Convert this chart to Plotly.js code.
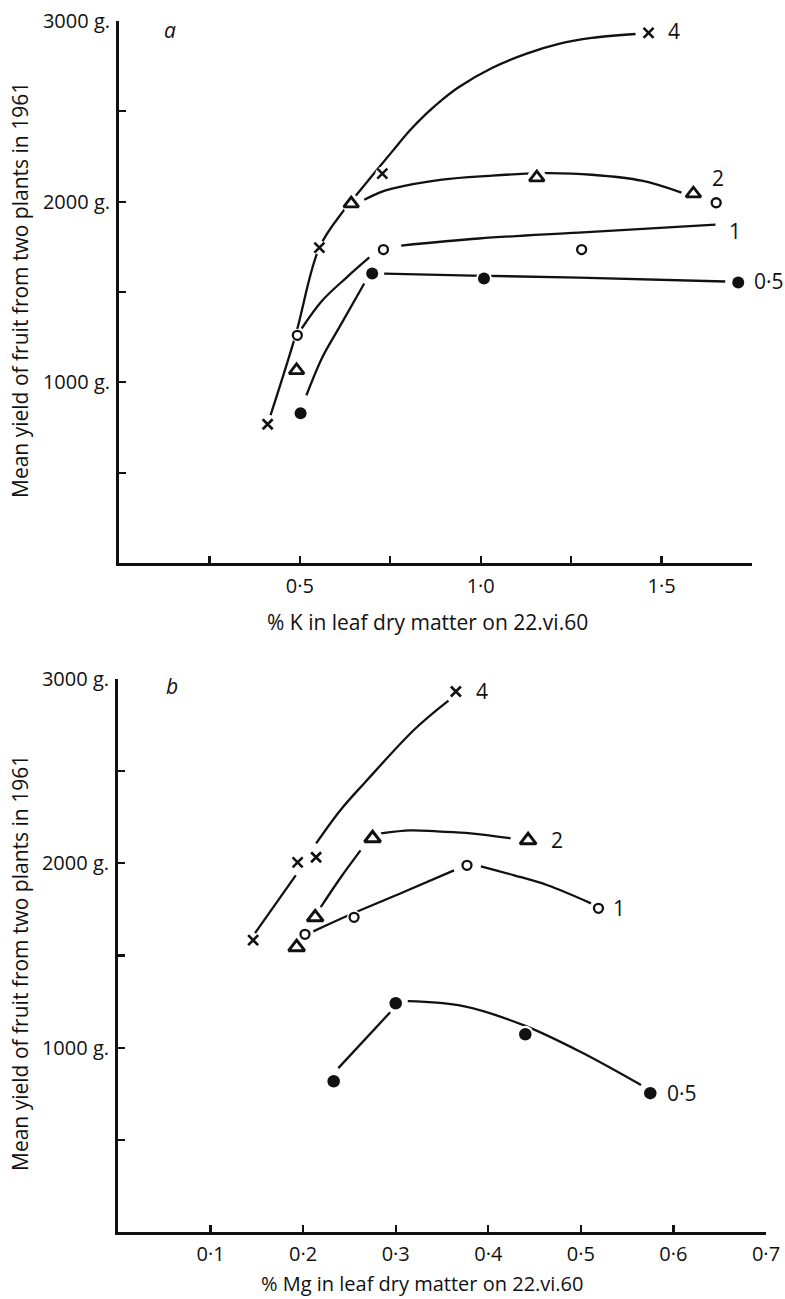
<!DOCTYPE html>
<html>
<head>
<meta charset="utf-8">
<script src="https://cdn.plot.ly/plotly-3.0.1.min.js"></script>
<style>html,body{margin:0;padding:0;background:#fff;}#chart{width:785px;height:1299px;}</style>
</head>
<body>
<div id="chart"></div>
<script>
// ---------- Panel a: % K in leaf dry matter ----------
const k4_x = [0.411, 0.554, 0.728, 1.464];
const k4_y = [768, 1746, 2155, 2934];
const k2_x = [0.491, 0.642, 1.155, 1.588];
const k2_y = [1066, 1989, 2133, 2044];
const k1_x = [0.493, 0.731, 1.279, 1.651];
const k1_y = [1260, 1735, 1735, 1994];
const k05_x = [0.502, 0.700, 1.009, 1.712];
const k05_y = [829, 1602, 1575, 1553];

// hand-drawn curves in panel a
const k4c_x = [0.419, 0.488, 0.554, 0.623, 0.659, 0.755, 0.802, 0.849, 0.893, 0.940, 1.031, 1.125, 1.216, 1.307, 1.428];
const k4c_y = [818, 1260, 1746, 1956, 2044, 2277, 2390, 2486, 2564, 2635, 2740, 2818, 2873, 2906, 2928];
const k2c_x = [0.678, 0.720, 0.755, 0.893, 1.031, 1.125, 1.188, 1.307, 1.445, 1.555];
const k2c_y = [2011, 2050, 2072, 2122, 2144, 2155, 2158, 2149, 2116, 2050];
const k1c_x = [0.505, 0.562, 0.629, 0.692, null, 0.780, 0.995, 1.271, 1.649];
const k1c_y = [1298, 1453, 1580, 1691, null, 1757, 1796, 1829, 1873];
const k05c_x = [0.518, 0.562, 0.609, 0.678, null, 0.733, 0.976, 1.271, 1.676];
const k05c_y = [928, 1138, 1304, 1547, null, 1602, 1591, 1580, 1558];

// ---------- Panel b: % Mg in leaf dry matter ----------
const m4_x = [0.146, 0.194, 0.214, 0.365];
const m4_y = [1583, 2005, 2033, 2932];
const m2_x = [0.193, 0.213, 0.275, 0.443];
const m2_y = [1545, 1707, 2136, 2125];
const m1_x = [0.202, 0.255, 0.377, 0.519];
const m1_y = [1615, 1707, 1989, 1756];
const m05_x = [0.233, 0.300, 0.440, 0.575];
const m05_y = [818, 1241, 1073, 753];

const m4c_x = [0.148, 0.192, null, 0.214, 0.240, 0.267, 0.321, 0.357];
const m4c_y = [1621, 1935, null, 2108, 2287, 2440, 2730, 2883];
const m2c_x = [0.219, 0.240, 0.262, null, 0.284, 0.316, 0.345, 0.381, 0.424];
const m2c_y = [1762, 1919, 2070, null, 2163, 2179, 2173, 2163, 2136];
const m1c_x = [0.211, 0.254, 0.308, 0.363, null, 0.392, 0.428, 0.464, 0.511];
const m1c_y = [1631, 1729, 1843, 1962, null, 1984, 1935, 1881, 1783];
const m05c_x = [0.238, 0.294, null, 0.313, 0.373, 0.438, 0.500, 0.565];
const m05c_y = [889, 1192, null, 1252, 1225, 1122, 976, 797];

// ticks
const yTickVals = [500, 1000, 1500, 2000, 2500, 3000];
const yTickText = ['', '1000 g.', '', '2000 g.', '', '3000 g.'];
const kTickVals = [0.25, 0.5, 0.75, 1.0, 1.25, 1.5, 1.75];
const kTickText = ['', '0·5', '', '1·0', '', '1·5', ''];
const mTickVals = [0.1, 0.2, 0.3, 0.4, 0.5, 0.6, 0.7];
const mTickText = ['0·1', '0·2', '0·3', '0·4', '0·5', '0·6', '0·7'];

const seriesLabels = ['4', '2', '1', '0·5'];
const yTitle = 'Mean yield of fruit from two plants in 1961';
const kTitle = '% K in leaf dry matter on 22.vi.60';
const mTitle = '% Mg in leaf dry matter on 22.vi.60';

const W = 785, H = 1299;
const FONT = '"Open Sans", Lato, sans-serif';
const FS = 21;
const px = v => v / W;
const py = v => 1 - v / H;

function curve(x, y, xa, ya) {
  return {x: x, y: y, xaxis: xa, yaxis: ya, mode: 'lines', type: 'scatter',
    line: {color: '#111', width: 2.3, shape: 'spline', smoothing: 1}, connectgaps: false, hoverinfo: 'skip'};
}
function halo(x, y, xa, ya, s) {
  return {x: x, y: y, xaxis: xa, yaxis: ya, mode: 'markers', type: 'scatter',
    marker: {symbol: 'circle', color: '#fff', size: s, line: {width: 0}}, hoverinfo: 'skip'};
}
function pts(x, y, xa, ya, sym, s, lw) {
  return {x: x, y: y, xaxis: xa, yaxis: ya, mode: 'markers', type: 'scatter',
    marker: {symbol: sym, color: '#111', size: s, line: {color: '#111', width: lw}}};
}

const data = [
  curve(k4c_x, k4c_y, 'x', 'y'), curve(k2c_x, k2c_y, 'x', 'y'),
  curve(k1c_x, k1c_y, 'x', 'y'), curve(k05c_x, k05c_y, 'x', 'y'),
  curve(m4c_x, m4c_y, 'x2', 'y2'), curve(m2c_x, m2c_y, 'x2', 'y2'),
  curve(m1c_x, m1c_y, 'x2', 'y2'), curve(m05c_x, m05c_y, 'x2', 'y2'),
  halo(k4_x, k4_y, 'x', 'y', 14), halo(k2_x, k2_y, 'x', 'y', 19),
  halo(k1_x, k1_y, 'x', 'y', 13), halo(k05_x, k05_y, 'x', 'y', 16),
  halo(m4_x, m4_y, 'x2', 'y2', 14), halo(m2_x, m2_y, 'x2', 'y2', 20),
  halo(m1_x, m1_y, 'x2', 'y2', 14), halo(m05_x, m05_y, 'x2', 'y2', 17),
  pts(k4_x, k4_y, 'x', 'y', 'x-thin-open', 10, 2.6),
  pts(k2_x, k2_y, 'x', 'y', 'triangle-up-open', 13, 2.8),
  pts(k1_x, k1_y, 'x', 'y', 'circle-open', 9, 2.3),
  pts(k05_x, k05_y, 'x', 'y', 'circle', 12, 0),
  pts(m4_x, m4_y, 'x2', 'y2', 'x-thin-open', 10, 2.6),
  pts(m2_x, m2_y, 'x2', 'y2', 'triangle-up-open', 14, 3),
  pts(m1_x, m1_y, 'x2', 'y2', 'circle-open', 9, 2.3),
  pts(m05_x, m05_y, 'x2', 'y2', 'circle', 12.5, 0)
];

const axisCommon = {
  showline: true, linecolor: '#111', linewidth: 3, showgrid: false, zeroline: false,
  ticks: 'inside', ticklen: 7, tickwidth: 2.2, tickcolor: '#111', tickmode: 'array',
  tickfont: {family: FONT, size: FS - 1, color: '#111'}, fixedrange: true
};

function ann(text, x, y, opts) {
  return Object.assign({text: text, x: px(x), y: py(y), xref: 'paper', yref: 'paper',
    showarrow: false, font: {family: FONT, size: FS, color: '#111'}, xanchor: 'center', yanchor: 'middle'}, opts || {});
}

const annotations = [
  ann('<i>a</i>', 170, 30),
  ann('<i>b</i>', 172, 686),
  ann(seriesLabels[0], 674, 31), ann(seriesLabels[1], 718, 178),
  ann(seriesLabels[2], 735, 231), ann(seriesLabels[3], 752, 281, {xanchor: 'left'}),
  ann(seriesLabels[0], 482, 691), ann(seriesLabels[1], 557, 840),
  ann(seriesLabels[2], 619, 908), ann(seriesLabels[3], 665, 1093, {xanchor: 'left'}),
  ann(yTitle, 20, 290, {textangle: -90}),
  ann(yTitle, 20, 963, {textangle: -90}),
  ann(kTitle, 427, 622),
  ann(mTitle, 422, 1283, {font: {family: FONT, size: FS - 1, color: '#111'}})
];

const layout = {
  width: W, height: H, margin: {l: 0, r: 0, t: 0, b: 0},
  paper_bgcolor: '#fff', plot_bgcolor: '#fff', showlegend: false,
  font: {family: FONT, color: '#111'},
  xaxis: Object.assign({}, axisCommon, {domain: [px(119), px(752)], range: [0, 1.75], anchor: 'y',
    tickvals: kTickVals, ticktext: kTickText, ticklabelstandoff: 3}),
  yaxis: Object.assign({}, axisCommon, {domain: [py(563), py(21)], range: [0, 3000], anchor: 'x',
    tickvals: yTickVals, ticktext: yTickText, ticklabelstandoff: 2}),
  xaxis2: Object.assign({}, axisCommon, {domain: [px(118), px(766)], range: [0, 0.7], anchor: 'y2',
    tickvals: mTickVals, ticktext: mTickText, ticklabelstandoff: 2}),
  yaxis2: Object.assign({}, axisCommon, {domain: [py(1232), py(679)], range: [0, 3000], anchor: 'x2',
    tickvals: yTickVals, ticktext: yTickText, ticklabelstandoff: 2}),
  annotations: annotations
};

Plotly.newPlot('chart', data, layout, {staticPlot: true, displayModeBar: false});
</script>
</body>
</html>
